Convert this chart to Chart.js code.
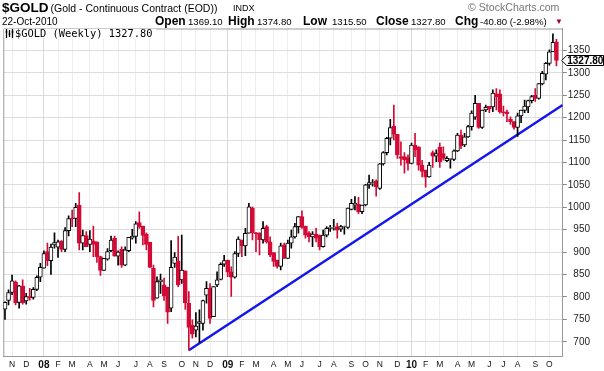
<!DOCTYPE html>
<html>
<head>
<meta charset="utf-8">
<script src="https://cdn.jsdelivr.net/npm/chart.js@4"></script>
<style>
  body { margin: 0; background: #fff; }
  #wrap { position: relative; width: 604px; height: 371px; font-family: "Liberation Sans", Arial, sans-serif; }
  canvas { position: absolute; left: 0; top: 0; }
  .t { position: absolute; white-space: nowrap; color: #000; line-height: 1; }
  .b { font-weight: bold; font-size: 12px; top: 15.3px; }
  .n { font-size: 9.6px; top: 16.9px; }
  #leg { position: absolute; left: 4px; top: 29px; width: 152px; height: 9px; background: #fff; }
</style>
</head>
<body>
<div id="wrap">
  <canvas id="c" width="604" height="371"></canvas>
  <span class="t" style="left:2px;top:1.3px;font-size:13.5px;font-weight:bold">$GOLD</span>
  <span class="t" style="left:50.5px;top:3.2px;font-size:10.5px">(Gold - Continuous Contract (EOD))</span>
  <span class="t" style="left:233px;top:4.4px;font-size:9px">INDX</span>
  <span class="t" style="left:468px;top:1.8px;font-size:10.6px;color:#777">© StockCharts.com</span>
  <span class="t" style="left:2px;top:16.5px;font-size:10px">22-Oct-2010</span>
  <span class="t b" style="left:155px">Open</span><span class="t n" style="left:188px">1369.10</span>
  <span class="t b" style="left:228px">High</span><span class="t n" style="left:257px">1374.80</span>
  <span class="t b" style="left:303px">Low</span><span class="t n" style="left:332px">1315.50</span>
  <span class="t b" style="left:376px">Close</span><span class="t n" style="left:411px">1327.80</span>
  <span class="t b" style="left:455px">Chg</span><span class="t n" style="left:480px">-40.80 (-2.98%)</span>
  <span class="t" style="left:555px;top:18px;font-size:8px;color:#a0002a">▼</span>
  <div id="leg">
    <svg width="9" height="9" style="position:absolute;left:1px;top:0"><path d="M1.5 0v9M4.5 1v7M7.5 0v9" stroke="#000" stroke-width="1.3"/><path d="M0.5 3h2M3.5 5h2M6.5 3h2" stroke="#000"/></svg>
    <span class="t" style="left:11px;top:-0.6px;font-family:'DejaVu Sans Mono',monospace;font-size:10.4px">$GOLD (Weekly) 1327.80</span>
  </div>
</div>
<script>
// weekly candles, week index 0 = week of 22-Oct-2007 ... 156 = week of 18-Oct-2010
const opens = [
  773,792,810,833,788,824,791,801,799,817,844,864,901,
  881,916,911,925,906,948,976,975,1005,920,937,917,925,
  923,890,859,884,903,931,891,906,871,903,931,935,966,
  958,940,922,864,797,834,827,822,775,875,880,838,858,
  786,737,726,741,741,804,819,756,827,839,873,882,856,
  844,897,927,914,942,998,943,943,927,957,923,899,882,
  868,916,886,920,934,957,979,958,943,934,940,938,912,
  938,953,953,957,951,956,955,995,1005,1007,990,1005,1050,
  1053,1059,1042,1097,1122,1154,1181,1163,1113,1113,1111,1098,1139,
  1135,1094,1083,1068,1122,1114,1134,1120,1104,1107,1107,1126,1161,
  1139,1157,1180,1201,1232,1178,1217,1225,1224,1253,1253,1213,1213,
  1196,1191,1178,1204,1216,1224,1238,1250,1243,1275,1297,1321,1347,
  1369.1
];
const highs = [
  789,816,849,836,826,838,808,819,821,847,875,903,920,
  918,943,927,925,955,981,994,1009,1033,949,946,948,958,
  923,891,886,908,936,936,903,912,912,933,951,968,990,
  958,943,922,871,845,851,842,822,926,899,935,938,858,
  812,749,765,771,793,834,830,823,856,876,893,882,867,
  901,934,927,953,1009,1001,944,943,968,960,934,899,882,
  920,920,927,949,964,979,992,958,946,946,953,938,949,
  957,960,973,964,960,958,998,1018,1024,1022,1005,1051,1072,
  1062,1061,1098,1124,1156,1196,1228,1163,1146,1122,1117,1143,1165,
  1135,1105,1083,1100,1126,1128,1143,1135,1113,1109,1128,1165,1172,
  1165,1183,1215,1250,1232,1217,1228,1225,1262,1265,1262,1226,1217,
  1202,1191,1210,1217,1239,1239,1250,1265,1276,1303,1323,1351,1387,
  1374.8
];
const lows = [
  750,782,805,782,775,784,784,793,795,814,834,864,870,
  850,909,888,901,901,936,957,957,905,905,912,901,890,
  877,848,859,882,901,891,871,866,870,901,929,920,953,
  916,905,866,778,797,808,792,741,767,866,823,830,772,
  681,708,711,698,726,786,741,756,823,838,868,845,801,
  842,890,890,892,942,927,901,894,920,920,890,868,864,
  860,886,886,909,931,942,953,931,923,912,923,905,911,
  934,946,949,931,946,940,953,994,994,986,986,1003,1042,
  1047,1025,1040,1094,1117,1139,1150,1109,1094,1076,1083,1097,1113,
  1083,1068,1045,1067,1089,1102,1089,1105,1102,1087,1104,1124,1131,
  1135,1156,1172,1196,1176,1176,1213,1211,1213,1217,1210,1204,1191,
  1185,1174,1158,1189,1211,1211,1233,1236,1241,1273,1284,1317,1347,
  1315.5
];
const closes = [
  788,810,836,787,825,787,801,798,817,844,866,897,881,
  911,921,923,906,948,975,974,1000,920,937,912,929,917,
  890,859,886,901,927,891,900,871,905,933,936,963,957,
  937,917,866,792,834,838,803,766,866,889,827,860,787,
  732,717,735,745,792,819,752,823,838,873,881,855,844,
  897,929,914,942,1001,943,941,928,953,923,894,879,868,
  914,886,920,934,957,979,955,938,934,940,931,912,938,
  953,955,955,949,957,957,998,1009,1009,990,1005,1050,1055,
  1055,1046,1097,1122,1154,1178,1163,1117,1109,1106,1098,1139,1128,
  1094,1080,1067,1094,1114,1120,1102,1109,1109,1109,1126,1161,1137,
  1157,1180,1210,1232,1178,1217,1223,1219,1255,1247,1213,1211,1209,
  1191,1178,1204,1217,1226,1238,1247,1243,1276,1299,1321,1347,1368,
  1327.8
];
// month starts (week index) and their labels
const monthTicks = [2,6,11,15,19,24,28,32,37,41,45,50,54,58,63,67,71,76,80,84,89,93,98,102,106,111,115,119,123,128,132,137,141,145,150,154];
const monthLabels = ['N','D','08','F','M','A','M','J','J','A','S','O','N','D','09','F','M','A','M','J','J','A','S','O','N','D','10','F','M','A','M','J','J','A','S','O'];
const yTicks = [700,750,800,850,900,950,1000,1050,1100,1150,1200,1250,1300,1350];
// trend line from the Oct-2008 low to the right edge
const trendX = [52, 157.77];
const trendY = [681, 1228];

const RED = '#d40a36';
const FONT = '"Liberation Sans", Arial, sans-serif';
const idx = closes.map((_, i) => i);
const up = (i) => closes[i] >= opens[i];
const isYear = (i) => /^\d/.test(monthLabels[i]);

const frame = {
  id: 'frame',
  beforeDatasetsDraw(chart) {
    const { ctx, chartArea: a } = chart;
    ctx.save();
    ctx.strokeStyle = '#9a9a9a';
    ctx.lineWidth = 1;
    ctx.beginPath();
    ctx.moveTo(a.left + 0.5, a.bottom);
    ctx.lineTo(a.left + 0.5, a.top + 0.5);
    ctx.lineTo(a.right, a.top + 0.5);
    ctx.stroke();
    ctx.restore();
  },
  afterDraw(chart) {
    const { ctx, chartArea: a } = chart;
    const last = closes[closes.length - 1];
    const y = Math.round(chart.scales.y.getPixelForValue(last)) + 0.5;
    const x0 = a.right - 1;
    ctx.save();
    ctx.beginPath();
    ctx.moveTo(x0, y);
    ctx.lineTo(x0 + 5, y - 5);
    ctx.lineTo(603.5, y - 5);
    ctx.lineTo(603.5, y + 5);
    ctx.lineTo(x0 + 5, y + 5);
    ctx.closePath();
    ctx.fillStyle = '#fff';
    ctx.fill();
    ctx.strokeStyle = '#000';
    ctx.lineWidth = 1;
    ctx.stroke();
    ctx.fillStyle = '#000';
    ctx.font = 'bold 10px ' + FONT;
    ctx.textBaseline = 'middle';
    ctx.fillText(last.toFixed(2), x0 + 5.5, y + 0.5);
    ctx.restore();
  }
};

new Chart(document.getElementById('c'), {
  type: 'bar',
  data: {
    datasets: [
      {
        data: idx.map((i) => ({ x: i, y: [Math.min(opens[i], closes[i]), Math.max(opens[i], closes[i])] })),
        backgroundColor: idx.map((i) => (up(i) ? '#fff' : RED)),
        borderColor: idx.map((i) => (up(i) ? '#000' : RED)),
        borderWidth: 1, borderSkipped: false, barThickness: 4, grouped: false, order: 0,
      },
      {
        data: idx.map((i) => ({ x: i, y: [lows[i], highs[i]] })),
        backgroundColor: idx.map((i) => (up(i) ? '#000' : RED)),
        barThickness: 1, grouped: false, order: 1,
      },
      {
        type: 'line',
        data: trendX.map((x, k) => ({ x, y: trendY[k] })),
        borderColor: '#1515ee', borderWidth: 2.5, pointRadius: 0, order: 2,
      },
    ],
  },
  options: {
    responsive: false,
    animation: false,
    layout: { padding: { left: 3.3, right: 14, top: 28.5, bottom: 0 } },
    plugins: { legend: { display: false }, tooltip: { enabled: false } },
    scales: {
      x: {
        type: 'linear', min: -0.48, max: 157.77, offset: false,
        afterBuildTicks: (s) => { s.ticks = monthTicks.map((v) => ({ value: v })); },
        afterFit: (s) => { s.height = 14.3; },
        grid: { color: (c) => (c.index !== undefined && isYear(c.index) ? '#b8b8b8' : '#dcdcdc'), drawTicks: false, offset: false },
        border: { color: '#9a9a9a', dash: [1, 1] },
        ticks: {
          autoSkip: false, maxRotation: 0, padding: 3, color: '#111',
          font: (c) => (isYear(c.index) ? { family: FONT, size: 10, weight: 'bold' } : { family: FONT, size: 8.5 }),
          callback: (v, i) => monthLabels[i],
        },
      },
      y: {
        position: 'right', min: 666.7, max: 1398.8,
        afterBuildTicks: (s) => { s.ticks = yTicks.map((v) => ({ value: v })); },
        afterFit: (s) => { s.width = 27.3; },
        grid: { color: '#dcdcdc', tickLength: 4, tickColor: '#888' },
        border: { color: '#9a9a9a' },
        ticks: { crossAlign: 'far', padding: 1, color: '#222', font: { family: FONT, size: 10 }, callback: (v) => String(v) },
      },
    },
  },
  plugins: [frame],
});
</script>
</body>
</html>
